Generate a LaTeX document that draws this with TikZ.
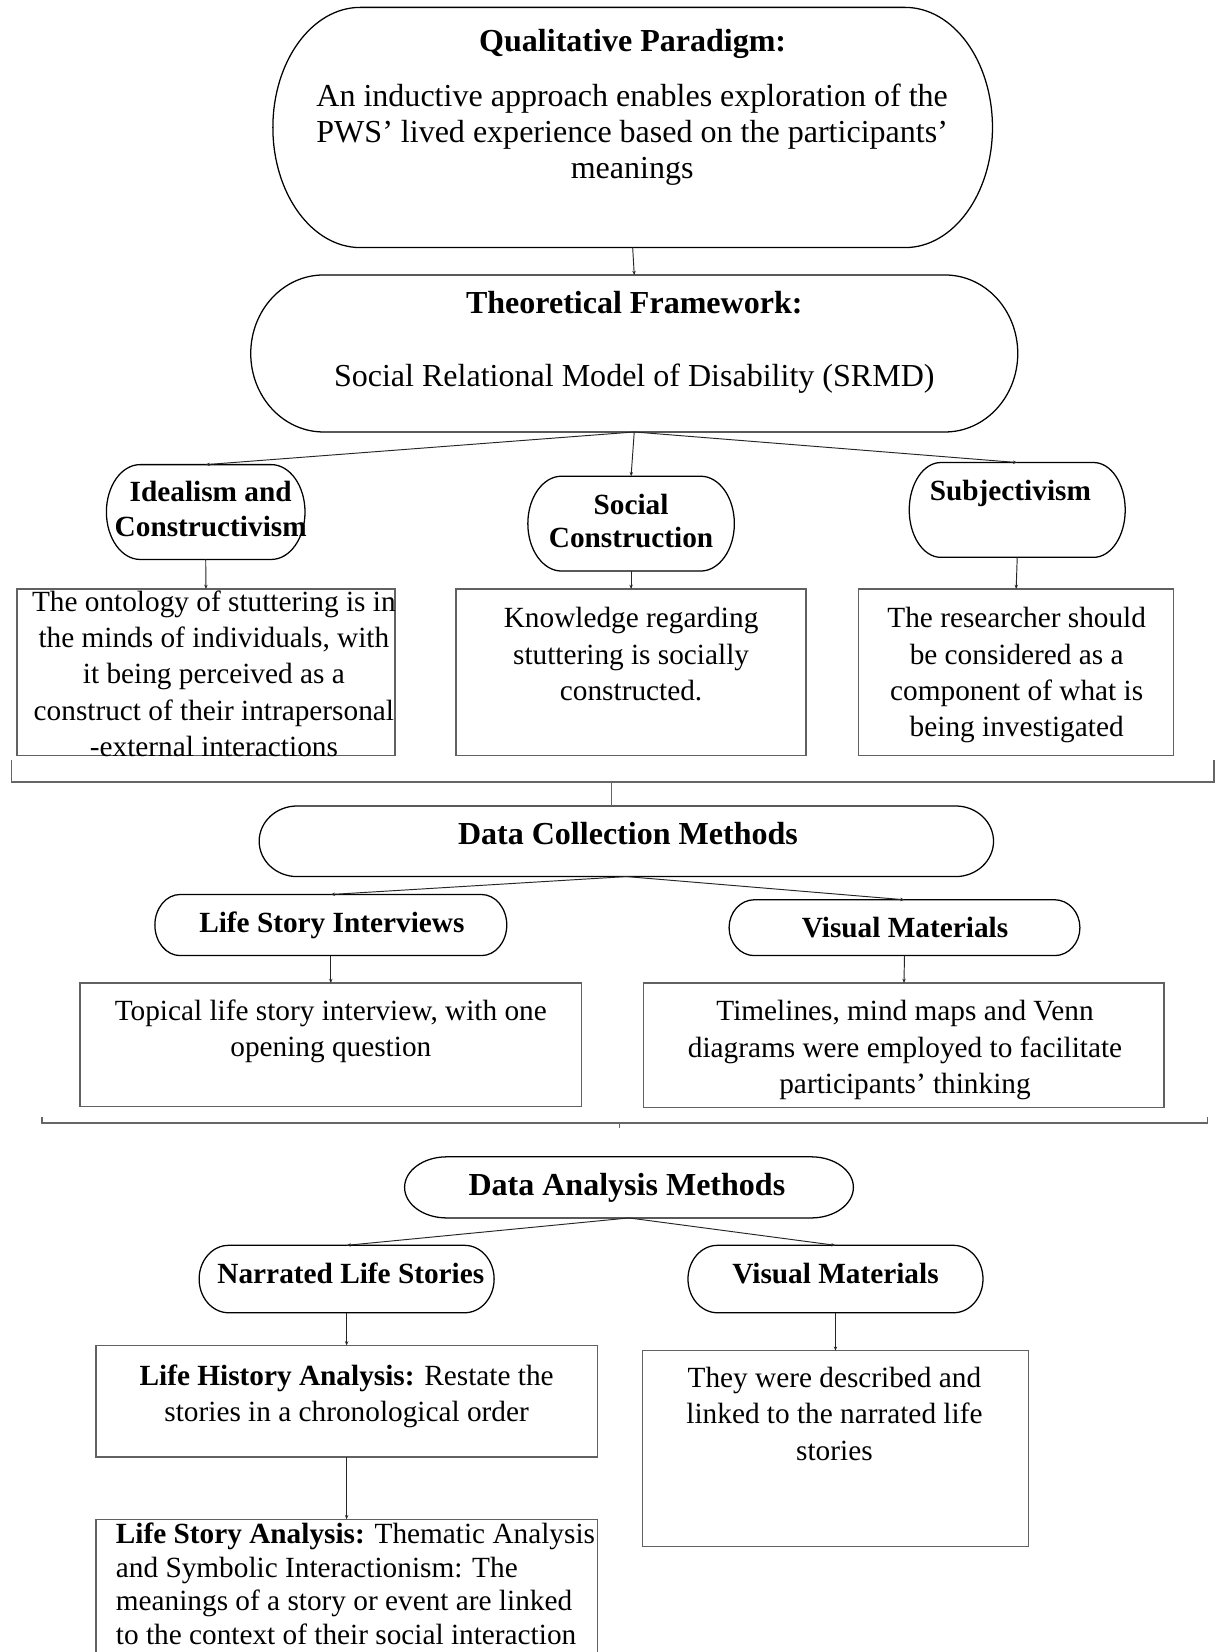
\documentclass[tikz,border=0pt]{standalone}
\usepackage{fontspec}
\setmainfont{Liberation Serif}
\usetikzlibrary{calc,arrows.meta}

% font sizes used in the chart
\newcommand\fHead{\fontsize{15.2}{18}\selectfont\bfseries}
\newcommand\fSub{\fontsize{13.9}{16.5}\selectfont\bfseries}
\newcommand\fBody{\fontsize{13.9}{17.25}\selectfont}
\newcommand\fBig{\fontsize{15.2}{17}\selectfont}
% stacked lines whose first baseline is the node baseline
\newcommand\txtrows[2]{\begin{tabular}[t]{@{}#1@{}}#2\end{tabular}}
% terminator outline: flat top and bottom, elliptical ends
\newcommand\termoutline[2]{%
  \draw[termline] let \p1=(#1.north west), \p2=(#1.south east), \n1={(\y1-\y2)/2} in
    (\x1+#2,\y1) -- (\x2-#2,\y1)
    arc[start angle=90, end angle=-90, x radius=#2, y radius={\n1*1pt}]
    -- (\x1+#2,\y2)
    arc[start angle=270, end angle=90, x radius=#2, y radius={\n1*1pt}] -- cycle;}

\begin{document}
\begin{tikzpicture}[x=0.5pt,y=-0.5pt,
  termbox/.style={inner sep=0pt, outer sep=0pt, draw=none},
  termline/.style={draw=black, line width=0.6pt},
  textbox/.style={draw=black!62, line width=0.7pt, inner sep=0pt, outer sep=0pt},
  link/.style={draw=black!85, line width=0.45pt, -{Stealth[length=2pt,width=1.6pt]}},
  bracket/.style={draw=black!60, line width=0.8pt},
  lbl/.style={anchor=base, inner sep=0pt, outer sep=0pt},
]
\useasboundingbox (0,0) rectangle (1158,1568);
\clip (0,0) rectangle (1158,1568);
\fill[white] (0,0) rectangle (1158,1568);

% ---------- paradigm and framework ----------
\node[termbox, minimum width=341.5pt, minimum height=114pt] (qp) at (600.5,121) {};
\termoutline{qp}{41.5pt}
\node[lbl] (qpT) at (600.5,49) {\fHead Qualitative Paradigm:};
\node[lbl] (qpB) at (600,101) {\fBig\txtrows{c}{An inductive approach enables exploration of the\\PWS’ lived experience based on the participants’\\meanings}};

\node[termbox, minimum width=364pt, minimum height=74.5pt] (tf) at (602,335.5) {};
\termoutline{tf}{34.5pt}
\node[lbl] (tfT) at (602,298) {\fHead Theoretical Framework:};
\node[lbl] (tfB) at (602,367) {\fBig Social Relational Model of Disability (SRMD)};

\draw[link] (qp.south) -- (tf.north);

% ---------- philosophical positions ----------
\node[termbox, minimum width=94.25pt, minimum height=45pt] (ideal) at (195.25,486) {};
\termoutline{ideal}{16pt}
\node[lbl] (idealT) at (200,476) {\fSub\txtrows{c}{Idealism and\\Constructivism}};

\node[termbox, minimum width=98pt, minimum height=45pt] (soc) at (599,497) {};
\termoutline{soc}{16pt}
\node[lbl] (socT) at (599,488) {\fontsize{13.9}{16}\selectfont\bfseries\txtrows{c}{Social\\Construction}};

\node[termbox, minimum width=102.5pt, minimum height=45pt] (subj) at (965.5,484) {};
\termoutline{subj}{15pt}
\node[lbl] (subjT) at (959,475) {\fSub Subjectivism};

\draw[link] (tf.south) -- (ideal.north);
\draw[link] (tf.south) -- (soc.north);
\draw[link] (tf.south) -- (subj.north);

\node[textbox, minimum width=179.5pt, minimum height=79pt] (b1) at (195.5,638) {};
\node[textbox, minimum width=166pt, minimum height=79pt] (b2) at (599,638) {};
\node[textbox, minimum width=149.5pt, minimum height=79pt] (b3) at (964.5,638) {};
\node[lbl] (b1T) at (203,580) {\fBody\txtrows{c}{The ontology of stuttering is in\\the minds of individuals, with\\it being perceived as a\\construct of their intrapersonal\\-external interactions}};
\node[lbl] (b2T) at (599,596) {\fBody\txtrows{c}{Knowledge regarding\\stuttering is socially\\constructed.}};
\node[lbl] (b3T) at (965,596) {\fBody\txtrows{c}{The researcher should\\be considered as a\\component of what is\\being investigated}};

\draw[link] (ideal.south) -- (b1.north);
\draw[link] (soc.south) -- (b2.north);
\draw[link] (subj.south) -- (b3.north);

% ---------- data collection ----------
\coordinate (br1L) at (11,721);
\coordinate (br1R) at (1152,721);
\coordinate (br1C) at (580,742);
\draw[bracket] (br1L) -- (br1L |- br1C) -- (br1R |- br1C) -- (br1R);

\node[termbox, minimum width=348.5pt, minimum height=33.5pt] (dcm) at (594.5,798.5) {};
\termoutline{dcm}{18pt}
\node[lbl] (dcmT) at (596,802) {\fHead Data Collection Methods};
\draw[bracket, line width=0.5pt] (br1C) -- (br1C |- dcm.north);

\node[termbox, minimum width=167pt, minimum height=29pt] (lsi) at (314,878) {};
\termoutline{lsi}{12pt}
\node[lbl] (lsiT) at (315,885) {\fSub Life Story Interviews};

\node[termbox, minimum width=166.5pt, minimum height=26.5pt] (vm1) at (858.5,880.5) {};
\termoutline{vm1}{12pt}
\node[lbl] (vm1T) at (859,890) {\fSub Visual Materials};

\draw[link] (dcm.south) -- (lsi.north);
\draw[link] (dcm.south) -- (vm1.north);

\node[textbox, minimum width=238pt, minimum height=58.5pt] (blsi) at (314,991.5) {};
\node[textbox, minimum width=247pt, minimum height=59pt] (bvm1) at (858,992) {};
\node[lbl] (blsiT) at (314,969) {\fontsize{13.9}{16.75}\selectfont\txtrows{c}{Topical life story interview, with one\\opening question}};
\node[lbl] (bvm1T) at (859,969) {\fBody\txtrows{c}{Timelines, mind maps and Venn\\diagrams were employed to facilitate\\participants’ thinking}};

\draw[link] (lsi.south) -- (blsi.north);
\draw[link] (vm1.south) -- (bvm1.north);

% ---------- data analysis ----------
\coordinate (br2L) at (40,1060);
\coordinate (br2R) at (1146,1060);
\coordinate (br2C) at (588,1066);
\coordinate (br2S) at (588,1071);
\draw[bracket] (br2L) -- (br2L |- br2C) -- (br2R |- br2C) -- (br2R);
\draw[bracket, line width=0.5pt] (br2C) -- (br2S);

\node[termbox, minimum width=213pt, minimum height=29pt] (dam) at (597,1127) {};
\termoutline{dam}{20pt}
\node[lbl] (damT) at (595,1135) {\fHead Data Analysis Methods};

\node[termbox, minimum width=140pt, minimum height=32pt] (nls) at (329,1214) {};
\termoutline{nls}{14pt}
\node[lbl] (nlsT) at (333,1218) {\fSub Narrated Life Stories};

\node[termbox, minimum width=140pt, minimum height=32pt] (vm2) at (793,1214) {};
\termoutline{vm2}{14pt}
\node[lbl] (vm2T) at (793,1218) {\fSub Visual Materials};

\draw[link] (dam.south) -- (nls.north);
\draw[link] (dam.south) -- (vm2.north);

\node[textbox, minimum width=238pt, minimum height=53pt] (blha) at (329,1330) {};
\node[textbox, minimum width=183pt, minimum height=93pt] (bvm2) at (793,1375) {};
\node[lbl] (blhaT) at (329,1315) {\fontsize{13.9}{17}\selectfont\txtrows{c}{\textbf{Life History Analysis:} Restate the\\stories in a chronological order}};
\node[lbl] (bvm2T) at (792,1317) {\fBody\txtrows{c}{They were described and\\linked to the narrated life\\stories}};

\draw[link] (nls.south) -- (blha.north);
\draw[link] (vm2.south) -- (bvm2.north);

\node[textbox, minimum width=238pt, minimum height=79pt] (blsa) at (329,1521) {};
\node[lbl, anchor=base west] (blsaT) at (110,1465) {\fontsize{13.9}{16}\selectfont\txtrows{l}{\textbf{Life Story Analysis:} Thematic Analysis\\and Symbolic Interactionism: The\\meanings of a story or event are linked\\to the context of their social interaction}};

\draw[link] (blha.south) -- (blsa.north);
\end{tikzpicture}
\end{document}
